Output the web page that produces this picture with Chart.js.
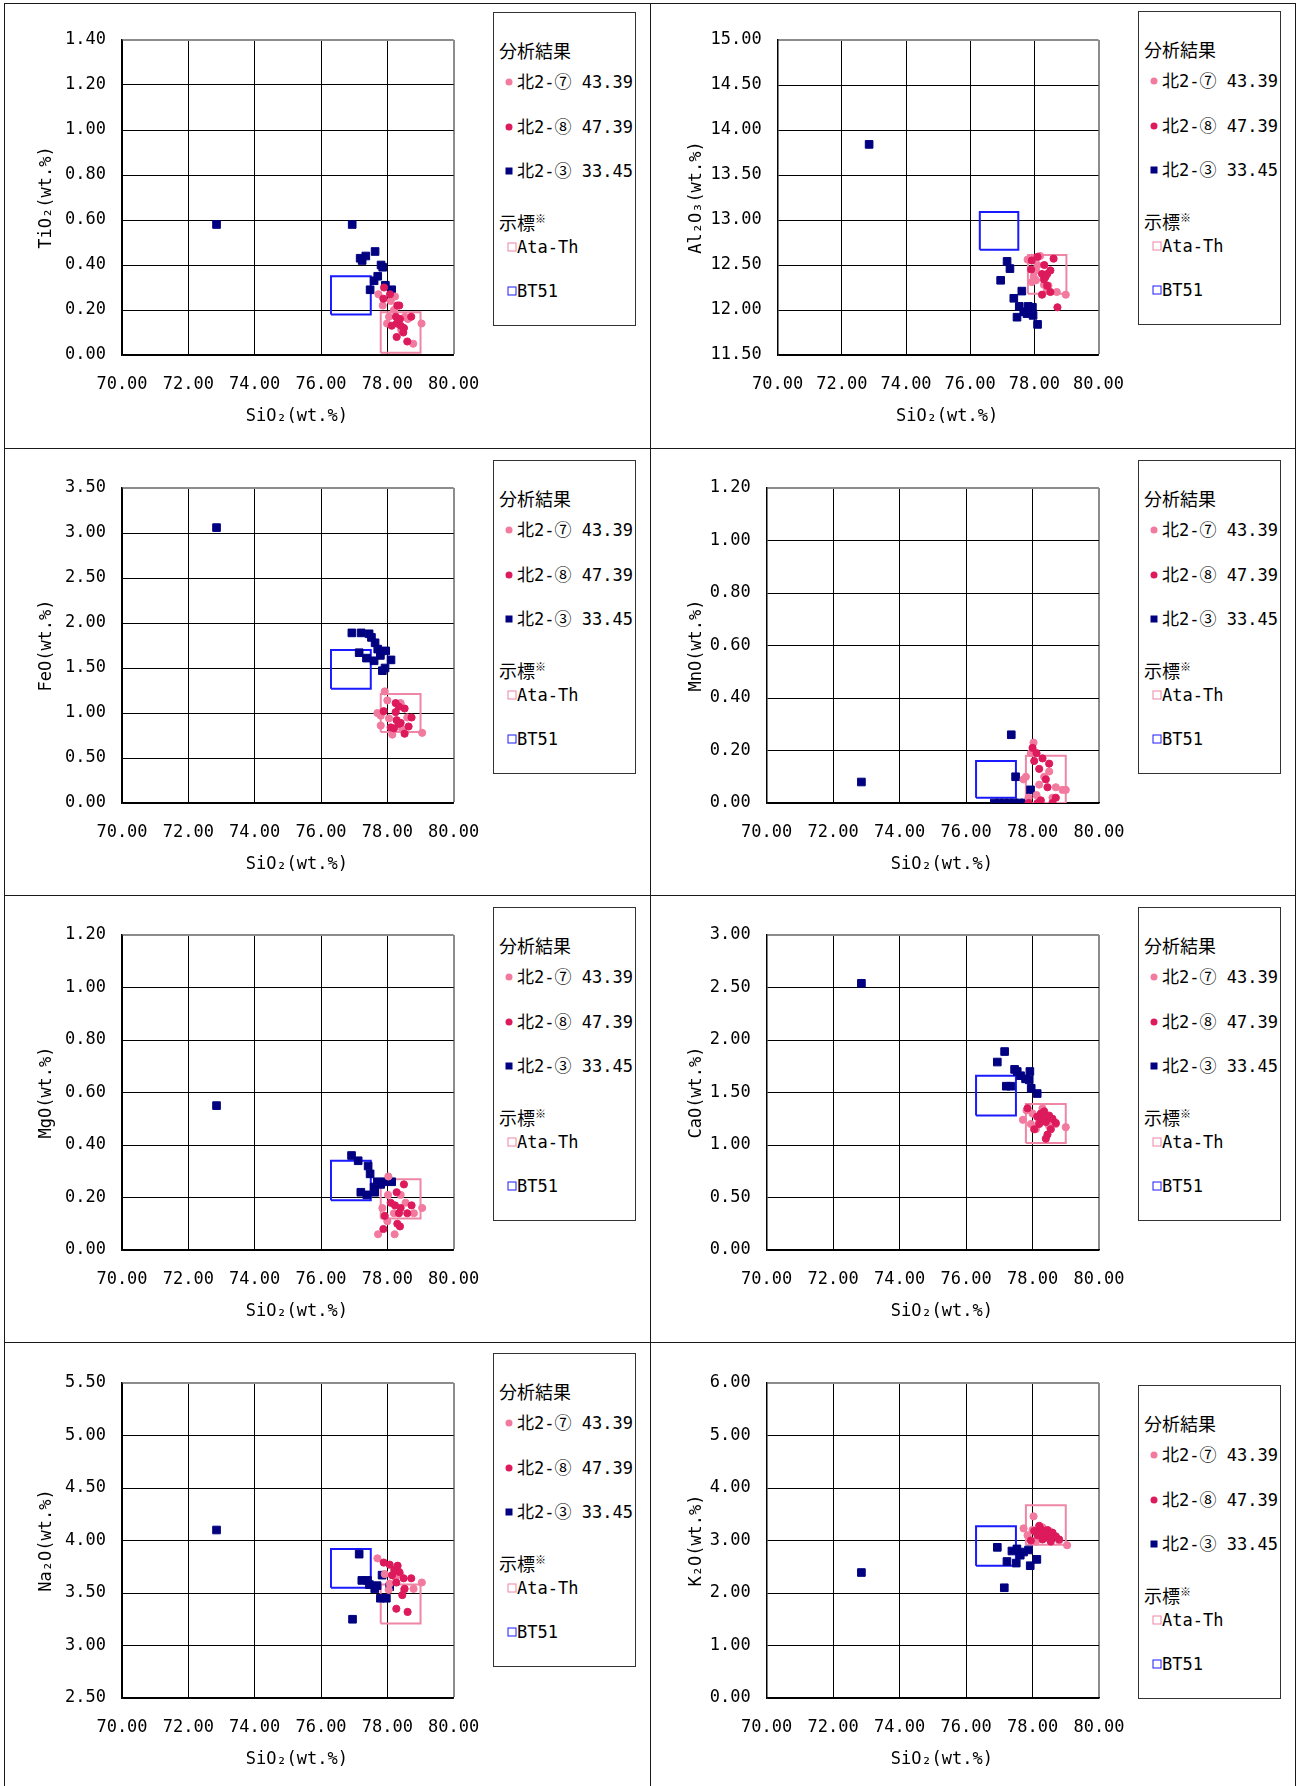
<!DOCTYPE html>
<html>
<head>
<meta charset="utf-8">
<title>SiO2 variation diagrams</title>
<script src="https://cdn.jsdelivr.net/npm/chart.js@4.4.1/dist/chart.umd.min.js"></script>
<style>
  html, body { margin: 0; padding: 0; background: #fff; }
  body { width: 1301px; height: 1786px; position: relative; overflow: hidden; }
  .line { position: absolute; background: #1a1a1a; }
  .panel { position: absolute; }
  .legend {
    position: absolute; box-sizing: border-box; width: 143px; height: 314px;
    border: 1px solid #333; background: #fff; color: #000;
    font-family: "DejaVu Sans Mono", "Noto Sans CJK JP", monospace; font-size: 17px;
  }
  .legend .item { position: absolute; white-space: nowrap; line-height: 20px; transform: translateY(-50%); }
  .legend .head { font-family: "Noto Sans CJK JP", sans-serif; font-size: 18px; }
  .legend .head sup { font-size: 11px; vertical-align: 7px; }
  .legend .mark { position: absolute; transform: translate(-50%, -50%); box-sizing: border-box; }
</style>
</head>
<body>
<div id="root"></div>
<script>
// ---- axis definitions -------------------------------------------------
const OXIDES = ['TiO₂', 'Al₂O₃', 'FeO', 'MnO', 'MgO', 'CaO', 'Na₂O', 'K₂O'];
const Y_MIN  = [0, 11.5, 0, 0, 0, 0, 2.5, 0];
const Y_MAX  = [1.4, 15.0, 3.5, 1.2, 1.2, 3.0, 5.5, 6.0];
const Y_STEP = [0.2, 0.5, 0.5, 0.2, 0.2, 0.5, 0.5, 1.0];
const X_MIN = 70, X_MAX = 80, X_STEP = 2;
const X_TITLE = 'SiO₂(wt.%)';

// ---- samples (legend text) ---------------------------------------------
const SAMPLE_NAMES = ['北2-⑦ 43.39', '北2-⑧ 47.39', '北2-③ 33.45'];
const REF_NAMES = ['Ata-Th', 'BT51'];

// ---- glass analyses: [SiO2, oxide] -------------------------------------
// 北2-⑦
const K7_TIO2 = [[77.73,0.27],[78.23,0.26],[77.86,0.22],[78.10,0.24],[78.53,0.17],[77.99,0.14],[79.03,0.14],[78.78,0.05],[78.20,0.20],[78.42,0.11],[78.05,0.17],[78.62,0.16]];
const K7_AL2O3 = [[77.79,12.56],[77.92,12.58],[78.18,12.60],[78.10,12.50],[78.05,12.44],[77.98,12.37],[77.92,12.31],[78.44,12.27],[78.70,12.20],[78.98,12.17],[78.30,12.28],[78.40,12.22],[78.05,12.33]];
const K7_FEO = [[77.92,1.24],[78.00,1.14],[77.70,1.00],[77.80,0.97],[78.05,0.94],[78.15,0.76],[78.40,1.11],[78.60,0.95],[79.05,0.78],[78.45,0.82],[77.80,0.86]];
const K7_MNO = [[78.03,0.23],[78.35,0.10],[77.73,0.09],[78.70,0.06],[78.90,0.05],[78.12,0.03],[77.95,0.19],[78.50,0.12],[78.20,0.07],[79.00,0.05],[78.60,0.02],[77.88,0.02],[77.80,0.10]];
const K7_MGO = [[78.03,0.28],[78.02,0.21],[77.85,0.16],[78.20,0.14],[78.40,0.21],[78.55,0.18],[78.80,0.14],[79.05,0.16],[78.22,0.06],[77.72,0.06],[78.00,0.11]];
const K7_CAO = [[77.71,1.24],[77.82,1.33],[78.00,1.30],[78.20,1.22],[78.35,1.28],[78.50,1.18],[78.70,1.20],[79.00,1.17],[78.10,1.15],[78.30,1.35],[78.60,1.24],[77.95,1.20]];
const K7_NA2O = [[77.70,3.83],[77.92,3.68],[78.07,3.59],[78.04,3.53],[78.39,3.68],[79.04,3.60],[78.79,3.54],[78.24,3.65],[78.50,3.53]];
const K7_K2O = [[78.03,3.46],[77.73,3.23],[77.85,3.10],[78.00,3.20],[78.20,3.15],[78.40,3.05],[78.60,3.10],[78.80,3.00],[79.04,2.91],[78.30,3.25],[78.50,3.18],[78.10,2.98]];

// 北2-⑧
const K8_TIO2 = [[77.90,0.30],[78.08,0.27],[77.88,0.25],[78.30,0.22],[78.36,0.22],[78.26,0.17],[78.72,0.17],[78.38,0.16],[78.28,0.14],[78.13,0.13],[78.50,0.12],[78.40,0.13],[78.48,0.10],[78.28,0.08],[78.60,0.06]];
const K8_AL2O3 = [[77.92,12.55],[78.10,12.59],[78.31,12.50],[78.60,12.57],[78.50,12.44],[78.24,12.40],[78.35,12.37],[78.30,12.34],[78.40,12.27],[78.24,12.17],[78.50,12.20],[78.72,12.03],[77.90,12.45],[78.40,12.40]];
const K8_FEO = [[78.25,1.11],[78.35,1.07],[78.52,1.05],[77.89,1.02],[78.25,1.01],[78.73,0.95],[78.28,0.92],[78.40,0.89],[78.10,0.84],[78.20,0.83],[78.64,0.85],[78.52,0.77],[78.35,0.88]];
const K8_MNO = [[78.12,0.19],[78.05,0.16],[78.20,0.13],[78.45,0.06],[78.25,0.01],[78.60,0.00],[78.00,0.21],[78.30,0.17],[78.40,0.09],[78.15,0.00],[78.70,0.02],[77.88,0.00],[78.50,0.15]];
const K8_MGO = [[78.50,0.25],[78.28,0.22],[78.10,0.18],[78.23,0.17],[78.40,0.16],[78.73,0.17],[78.60,0.14],[77.92,0.13],[78.35,0.14],[78.30,0.10],[78.38,0.09],[77.88,0.08]];
const K8_CAO = [[77.85,1.35],[78.05,1.15],[78.14,1.27],[78.25,1.30],[78.40,1.22],[78.30,1.25],[78.45,1.10],[78.60,1.25],[78.70,1.21],[78.20,1.20],[78.50,1.28],[78.35,1.32],[78.55,1.15],[78.40,1.06]];
const K8_NA2O = [[77.89,3.79],[78.07,3.77],[78.31,3.76],[78.21,3.72],[78.36,3.70],[78.14,3.67],[78.49,3.64],[78.72,3.64],[78.27,3.60],[78.52,3.54],[78.45,3.48],[78.27,3.35],[78.61,3.32]];
const K8_K2O = [[78.05,3.18],[77.95,3.00],[78.15,3.10],[78.25,3.22],[78.35,3.12],[78.45,3.20],[78.50,3.05],[78.60,3.15],[78.70,3.08],[78.30,3.02],[78.20,3.28],[78.55,2.98],[78.80,3.02],[78.40,3.15]];

// 北2-③
const K3_TIO2 = [[72.85,0.58],[76.94,0.58],[77.18,0.43],[77.24,0.42],[77.35,0.44],[77.63,0.46],[77.81,0.40],[77.86,0.39],[77.71,0.35],[77.60,0.33],[77.48,0.29],[77.94,0.31],[78.13,0.29]];
const K3_AL2O3 = [[72.85,13.84],[77.15,12.54],[77.24,12.46],[76.95,12.33],[77.61,12.21],[77.36,12.13],[77.53,12.04],[77.81,12.04],[77.94,12.03],[77.67,11.98],[77.46,11.92],[77.96,11.94],[78.10,11.84],[77.77,11.96]];
const K3_FEO = [[72.85,3.06],[76.93,1.89],[77.21,1.89],[77.45,1.88],[77.52,1.84],[77.63,1.78],[77.71,1.71],[77.95,1.69],[77.15,1.67],[77.79,1.64],[77.37,1.61],[77.60,1.58],[78.11,1.59],[77.93,1.50],[77.85,1.47]];
const K3_MNO = [[72.85,0.08],[77.36,0.26],[77.49,0.10],[77.94,0.05],[76.85,0.00],[77.00,0.00],[77.15,0.00],[77.30,0.00],[77.45,0.00],[77.60,0.00],[77.75,0.00]];
const K3_MGO = [[72.85,0.55],[76.92,0.36],[77.12,0.34],[77.42,0.32],[77.48,0.29],[77.70,0.26],[77.92,0.26],[78.13,0.26],[77.60,0.24],[77.20,0.22],[77.38,0.21],[77.62,0.22],[77.80,0.25]];
const K3_CAO = [[72.85,2.54],[77.16,1.89],[76.94,1.79],[77.46,1.72],[77.54,1.70],[77.92,1.70],[77.64,1.66],[77.79,1.63],[77.90,1.62],[77.21,1.56],[77.35,1.56],[77.96,1.54],[78.14,1.49]];
const K3_NA2O = [[72.85,4.10],[77.15,3.87],[77.23,3.62],[77.40,3.62],[77.46,3.58],[77.69,3.57],[77.62,3.54],[77.84,3.67],[77.79,3.45],[77.97,3.45],[78.07,3.56],[76.95,3.25]];
const K3_K2O = [[72.85,2.39],[76.94,2.87],[77.38,2.80],[77.53,2.84],[77.73,2.78],[77.88,2.82],[77.63,2.72],[77.23,2.60],[77.51,2.57],[77.93,2.52],[78.13,2.64],[77.15,2.10]];

// ---- reference tephra ranges (oxide order as OXIDES) -------------------
const ATA_SIO2 = [77.8, 79.0];
const ATA_LOW  = [0.01, 12.18, 0.79, 0.00, 0.12, 1.02, 3.21, 2.92];
const ATA_HIGH = [0.19, 12.61, 1.21, 0.18, 0.27, 1.39, 3.58, 3.67];
const BT_SIO2 = [76.3, 77.5];
const BT_LOW  = [0.18, 12.67, 1.27, 0.02, 0.19, 1.28, 3.55, 2.52];
const BT_HIGH = [0.35, 13.09, 1.70, 0.16, 0.34, 1.66, 3.92, 3.27];

const K7 = [K7_TIO2, K7_AL2O3, K7_FEO, K7_MNO, K7_MGO, K7_CAO, K7_NA2O, K7_K2O];
const K8 = [K8_TIO2, K8_AL2O3, K8_FEO, K8_MNO, K8_MGO, K8_CAO, K8_NA2O, K8_K2O];
const K3 = [K3_TIO2, K3_AL2O3, K3_FEO, K3_MNO, K3_MGO, K3_CAO, K3_NA2O, K3_K2O];

// ---- styling --------------------------------------------------------------
const C_K7 = '#f27a9e';
const C_K8 = '#dc1a5c';
const C_K3 = '#000080';
const C_ATA = '#ee86a6';
const C_BT = '#1a1aff';
const MONO = '"DejaVu Sans Mono", monospace';

// ---- page geometry --------------------------------------------------------
const CANVAS_W = 510, CANVAS_H = 446;
const ROW_TOP = [0, 448, 895, 1343];
const COL_LEFT = [0, 650];
const PLOT_TOP = 40, PLOT_BOTTOM = 355, X_AXIS_H = 71;
const PLOT_LEFT  = [122, 127.7, 122, 116.7, 122, 116.7, 122, 116.7];
const PLOT_RIGHT = [453.7, 448.5, 453.7, 449, 453.7, 449, 453.7, 449];
const LEGEND_LEFT = [493, 1138];
const LEGEND_TOP = [12, 11, 460, 460, 907, 907, 1353, 1385];

// x-axis caption, set slightly right of the plot centre
const xCaption = {
  id: 'xCaption',
  afterDraw(chart) {
    const { ctx, chartArea } = chart;
    ctx.save();
    ctx.font = '17px ' + MONO;
    ctx.fillStyle = '#000';
    ctx.textAlign = 'center';
    ctx.textBaseline = 'middle';
    ctx.fillText(X_TITLE, (chartArea.left + chartArea.right) / 2 + 9, chartArea.bottom + 62);
    ctx.restore();
  }
};

const root = document.getElementById('root');

function addLine(l, t, w, h) {
  const d = document.createElement('div');
  d.className = 'line';
  Object.assign(d.style, { left: l + 'px', top: t + 'px', width: w + 'px', height: h + 'px' });
  root.appendChild(d);
}

function toPts(arr) { return arr.map(([x, y]) => ({ x, y })); }
function rectPts(xr, lo, hi) {
  return [{ x: xr[0], y: lo }, { x: xr[1], y: lo }, { x: xr[1], y: hi }, { x: xr[0], y: hi }, { x: xr[0], y: lo }];
}

function buildLegend(left, top) {
  const box = document.createElement('div');
  box.className = 'legend';
  box.style.left = left + 'px';
  box.style.top = top + 'px';
  const add = (html, x, y, cls) => {
    const e = document.createElement('div');
    e.className = 'item' + (cls ? ' ' + cls : '');
    e.style.left = x + 'px';
    e.style.top = y + 'px';
    e.innerHTML = html;
    box.appendChild(e);
  };
  const mark = (x, y, css) => {
    const m = document.createElement('div');
    m.className = 'mark';
    m.style.left = x + 'px';
    m.style.top = y + 'px';
    Object.assign(m.style, css);
    box.appendChild(m);
  };
  add('分析結果', 5, 37, 'head');
  const sampleRows = [69, 114, 158];
  const sampleCols = [C_K7, C_K8, C_K3];
  SAMPLE_NAMES.forEach((name, k) => {
    const y = sampleRows[k];
    if (k < 2) mark(15, y, { width: '7px', height: '7px', borderRadius: '50%', background: sampleCols[k] });
    else mark(15, y, { width: '7px', height: '7px', background: sampleCols[k] });
    add(name, 23, y);
  });
  add('示標<sup>※</sup>', 5, 207, 'head');
  const refRows = [233.5, 277.5];
  const refCols = [C_ATA, C_BT];
  REF_NAMES.forEach((name, k) => {
    mark(17.5, refRows[k], { width: '9px', height: '9px', border: '1.5px solid ' + refCols[k], background: '#fff' });
    add(name, 23, refRows[k]);
  });
  root.appendChild(box);
}

for (let i = 0; i < OXIDES.length; i++) {
  const col = i % 2, row = Math.floor(i / 2);
  const wrap = document.createElement('div');
  wrap.className = 'panel';
  wrap.style.left = COL_LEFT[col] + 'px';
  wrap.style.top = ROW_TOP[row] + 'px';
  const cv = document.createElement('canvas');
  cv.width = CANVAS_W; cv.height = CANVAS_H;
  cv.style.width = CANVAS_W + 'px'; cv.style.height = CANVAS_H + 'px';
  wrap.appendChild(cv);
  root.appendChild(wrap);

  const yMax = Y_MAX[i];
  const plotLeft = PLOT_LEFT[i];
  const plotRight = PLOT_RIGHT[i];
  const isTop = c => c.tick && Math.abs(c.tick.value - yMax) < 1e-9;
  const isRight = c => c.tick && c.tick.value === X_MAX;

  new Chart(cv.getContext('2d'), {
    type: 'scatter',
    data: {
      datasets: [
        { label: SAMPLE_NAMES[1], data: toPts(K8[i]), pointStyle: 'circle', pointRadius: 3.6,
          backgroundColor: C_K8, borderColor: C_K8, borderWidth: 1 },
        { label: SAMPLE_NAMES[0], data: toPts(K7[i]), pointStyle: 'circle', pointRadius: 3.6,
          backgroundColor: C_K7, borderColor: C_K7, borderWidth: 1 },
        { label: SAMPLE_NAMES[2], data: toPts(K3[i]), pointStyle: 'rect', pointRadius: 5.4,
          backgroundColor: C_K3, borderColor: C_K3, borderWidth: 1 },
        { label: REF_NAMES[0], data: rectPts(ATA_SIO2, ATA_LOW[i], ATA_HIGH[i]), showLine: true,
          pointRadius: 0, borderColor: C_ATA, borderWidth: 2, fill: false, tension: 0 },
        { label: REF_NAMES[1], data: rectPts(BT_SIO2, BT_LOW[i], BT_HIGH[i]), showLine: true,
          pointRadius: 0, borderColor: C_BT, borderWidth: 2, fill: false, tension: 0 }
      ]
    },
    options: {
      responsive: false,
      animation: false,
      events: [],
      layout: { padding: { left: 0, top: PLOT_TOP, right: CANVAS_W - plotRight, bottom: CANVAS_H - PLOT_BOTTOM - X_AXIS_H } },
      plugins: { legend: { display: false }, tooltip: { enabled: false } },
      scales: {
        x: {
          type: 'linear', position: 'bottom', min: X_MIN, max: X_MAX,
          afterFit: s => { s.height = X_AXIS_H; },
          ticks: { stepSize: X_STEP, autoSkip: false, maxRotation: 0, padding: 19, color: '#000',
                   font: { family: MONO, size: 17 }, callback: v => Number(v).toFixed(2) },
          grid: { drawTicks: false,
                  color: c => isRight(c) ? '#8c8c8c' : '#000',
                  lineWidth: c => isRight(c) ? 2 : 1 },
          border: { display: true, color: '#000', width: 1.5 },
          title: { display: false }
        },
        y: {
          type: 'linear', position: 'left', min: Y_MIN[i], max: yMax,
          afterFit: s => { s.width = plotLeft; },
          ticks: { stepSize: Y_STEP[i], autoSkip: false, padding: 16, color: '#000',
                   font: { family: MONO, size: 17 }, callback: v => Number(v).toFixed(2) },
          grid: { drawTicks: false,
                  color: c => isTop(c) ? '#8c8c8c' : '#000',
                  lineWidth: c => isTop(c) ? 2 : 1 },
          border: { display: true, color: '#000', width: 1.5 },
          title: { display: true, text: OXIDES[i] + '(wt.%)', color: '#000', font: { family: MONO, size: 17 },
                   padding: { top: 36, bottom: 0 } }
        }
      }
    },
    plugins: [xCaption]
  });

  buildLegend(LEGEND_LEFT[col], LEGEND_TOP[i]);
}

// table rules around the panels
addLine(4, 3, 1292, 1);
addLine(4, 3, 1, 1783);
addLine(1295, 3, 1, 1783);
addLine(650, 3, 1, 1783);
[448, 895, 1342].forEach(y => addLine(4, y, 1292, 1));
</script>
</body>
</html>
